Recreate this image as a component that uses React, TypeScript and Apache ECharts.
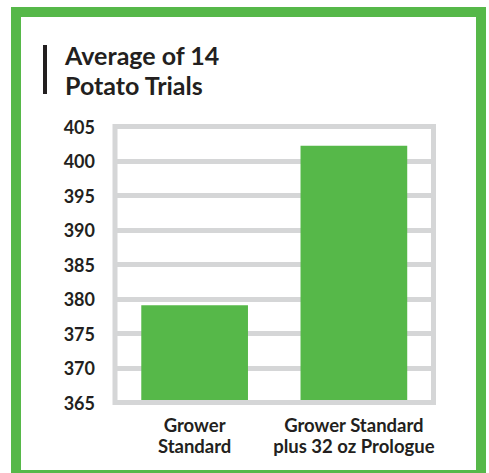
import React, { useEffect, useRef } from "react";
import * as echarts from "echarts";

const categories = ["Grower\nStandard", "Grower Standard\nplus 32 oz Prologue"];
const values = [379.1, 402.2];
const yMin = 365;
const yMax = 405;
const yStep = 5;
const titleText = "Average of 14\nPotato Trials";

const GREEN = "#56b849";
const GRAY = "#d5d6d7";
const INK = "#231f20";
const FONT = "Lato, 'Open Sans', sans-serif";

export default function App() {
  const ref = useRef<HTMLDivElement>(null);
  useEffect(() => {
    if (!ref.current) return;
    const chart = echarts.init(ref.current, undefined, { renderer: "svg" });
    chart.setOption({
      animation: false,
      backgroundColor: "#ffffff",
      title: {
        text: titleText,
        left: 60,
        top: 35,
        textStyle: {
          fontFamily: FONT,
          fontWeight: "bold",
          fontSize: 25,
          lineHeight: 30,
          color: INK,
        },
      },
      graphic: [
        {
          type: "rect",
          shape: { x: 16, y: 12, width: 465, height: 463 },
          style: { fill: "none", stroke: GREEN, lineWidth: 10 },
          silent: true,
        },
        {
          type: "rect",
          shape: { x: 43, y: 45, width: 4, height: 49 },
          style: { fill: INK },
          silent: true,
        },
      ],
      grid: {
        left: 115,
        right: 55.5,
        top: 126.5,
        height: 276,
        show: true,
        borderColor: GRAY,
        borderWidth: 5,
        backgroundColor: "transparent",
        z: 5,
      },
      xAxis: {
        type: "category",
        data: categories,
        axisLine: { show: false },
        axisTick: { show: false },
        axisLabel: {
          interval: 0,
          margin: 12,
          fontFamily: FONT,
          fontWeight: "bold",
          fontSize: 18.5,
          lineHeight: 21,
          color: INK,
        },
      },
      yAxis: {
        type: "value",
        min: yMin,
        max: yMax,
        interval: yStep,
        axisLine: { show: false },
        axisTick: { show: false },
        splitLine: { lineStyle: { color: GRAY, width: 5 } },
        axisLabel: {
          margin: 20,
          fontFamily: FONT,
          fontWeight: "bold",
          fontSize: 18,
          color: INK,
        },
      },
      series: [
        {
          type: "bar",
          data: values,
          barWidth: "67%",
          itemStyle: { color: GREEN },
          z: 2,
        },
      ],
    });
    return () => chart.dispose();
  }, []);
  return (
    <div
      ref={ref}
      style={{ position: "fixed", left: 0, top: 0, width: 489, height: 473 }}
    />
  );
}
